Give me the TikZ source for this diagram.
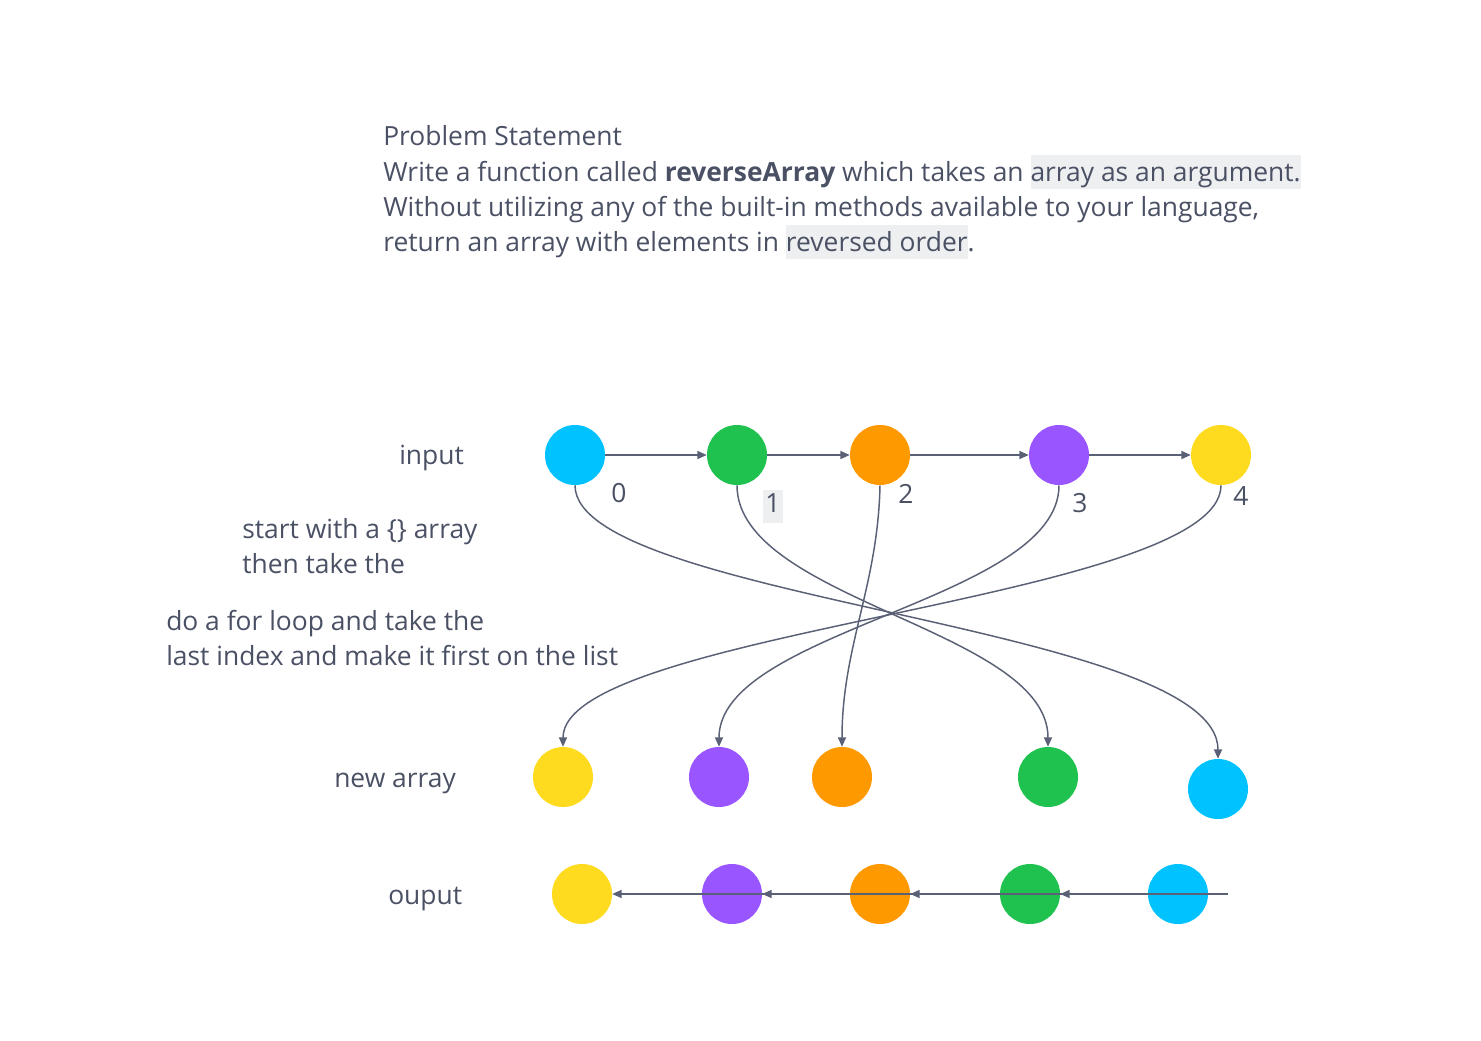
\documentclass[tikz,border=0pt]{standalone}
\usepackage{fontspec}
\setmainfont{Open Sans}
\usetikzlibrary{arrows.meta}
\definecolor{txt}{HTML}{4B5165}
\definecolor{edge}{HTML}{5A6075}
\definecolor{hlgray}{HTML}{EEEFF1}
\definecolor{cblue}{HTML}{00C2FF}
\definecolor{cgreen}{HTML}{1FC24F}
\definecolor{corange}{HTML}{FF9900}
\definecolor{cpurple}{HTML}{9955FF}
\definecolor{cyellow}{HTML}{FFDB1F}
\newcommand{\hlbox}[1]{{\setlength{\fboxsep}{0pt}\colorbox{hlgray}{\rule[-0.32em]{0pt}{1.32em}#1}}}
\begin{document}
\begin{tikzpicture}[x=0.75pt,y=-0.75pt,
  dot/.style={circle, minimum size=45pt, inner sep=0pt},
  lbl/.style={font=\fontsize{19.8}{23}\selectfont, text=txt, inner sep=0pt, anchor=base west},
  conn/.style={draw=edge, line width=1.1pt, -{Triangle[length=7pt,width=6pt]}},
  plain/.style={draw=edge, line width=1.1pt}]
\useasboundingbox[fill=white] (0,0) rectangle (1481,1040);

% problem statement
\node[lbl] (t1) at (383,145) {Problem Statement};
\node[lbl] (t2) at (383,181) {Write a function called \textbf{reverseArray} which takes an \hlbox{array as an argument.}};
\node[lbl] (t3) at (383,216) {Without utilizing any of the built-in methods available to your language,};
\node[lbl] (t4) at (383,251) {return an array with elements in \hlbox{reversed order}.};

% left labels
\node[lbl] (linput) at (399,464) {input};
\node[lbl] (ls1) at (242,538) {start with a \{\} array};
\node[lbl] (ls2) at (242,573) {then take the};
\node[lbl] (ld1) at (166,630) {do a for loop and take the};
\node[lbl] (ld2) at (166,665) {last index and make it first on the list};
\node[lbl] (lnew) at (334,787) {new array};
\node[lbl] (lout) at (388,904) {ouput};

% input row
\node[dot, fill=cblue] (iblue) at (575,455) {};
\node[dot, fill=cgreen] (igreen) at (737,455) {};
\node[dot, fill=corange] (iorange) at (880,455) {};
\node[dot, fill=cpurple] (ipurple) at (1059,455) {};
\node[dot, fill=cyellow] (iyellow) at (1221,455) {};

\draw[conn] (iblue.east) -- (igreen.west);
\draw[conn] (igreen.east) -- (iorange.west);
\draw[conn] (iorange.east) -- (ipurple.west);
\draw[conn] (ipurple.east) -- (iyellow.west);

% index labels
\node[lbl] (n0) at (611,502) {0};
\node[lbl, fill=hlgray, inner xsep=2pt, inner ysep=0pt, minimum height=25pt, anchor=base] (n1) at (773,512) {\rule[-6pt]{0pt}{19pt}1};
\node[lbl] (n2) at (898,503) {2};
\node[lbl] (n3) at (1072,512) {3};
\node[lbl] (n4) at (1233,505) {4};

% new array row
\node[dot, fill=cyellow] (nyellow) at (563,777) {};
\node[dot, fill=cpurple] (npurple) at (719,777) {};
\node[dot, fill=corange] (norange) at (842,777) {};
\node[dot, fill=cgreen] (ngreen) at (1048,777) {};
\node[dot, fill=cblue] (nblue) at (1218,789) {};

% crossing curves
\draw[conn] (iblue.south) .. controls +(0,115) and +(0,-134) .. (nblue.north);
\draw[conn] (igreen.south) .. controls +(0,115) and +(0,-117) .. (ngreen.north);
\draw[conn] (iorange.south) .. controls +(-2,100) and +(0,-100) .. (norange.north);
\draw[conn] (ipurple.south) .. controls +(0,115) and +(0,-117) .. (npurple.north);
\draw[conn] (iyellow.south) .. controls +(0,115) and +(0,-117) .. (nyellow.north);

% output row
\node[dot, fill=cyellow] (oyellow) at (582,894) {};
\node[dot, fill=cpurple] (opurple) at (732,894) {};
\node[dot, fill=corange] (oorange) at (880,894) {};
\node[dot, fill=cgreen] (ogreen) at (1030,894) {};
\node[dot, fill=cblue] (oblue) at (1178,894) {};
\coordinate (oend) at (1228,894);

\draw[conn] (oend) -- (ogreen.east);
\draw[conn] ([xshift=15pt]ogreen.east) -- (oorange.east);
\draw[conn] ([xshift=15pt]oorange.east) -- (opurple.east);
\draw[conn] ([xshift=15pt]opurple.east) -- (oyellow.east);
\end{tikzpicture}
\end{document}
